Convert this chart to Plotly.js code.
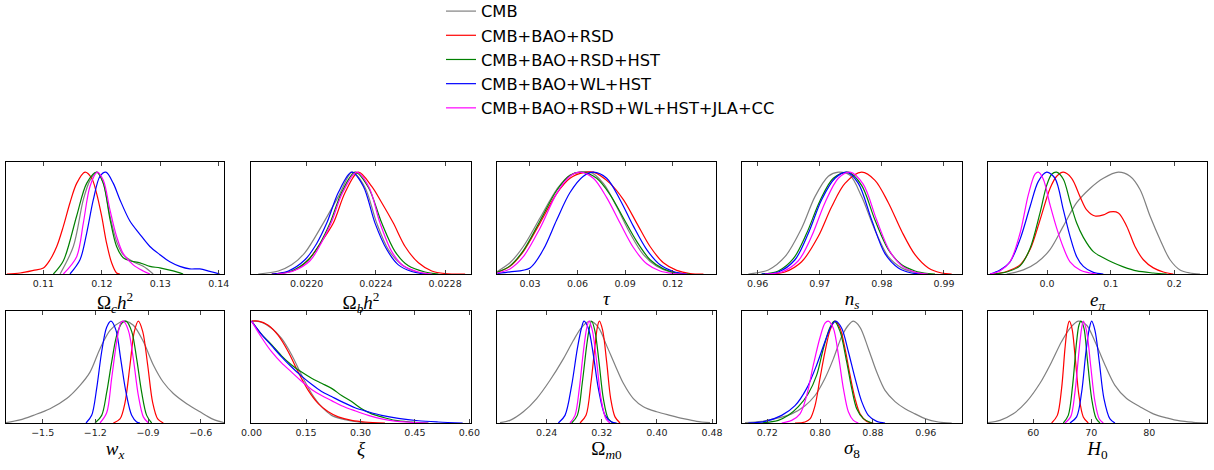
<!DOCTYPE html>
<html><head><meta charset="utf-8">
<script src="https://cdn.plot.ly/plotly-3.0.1.min.js"></script>
<style>html,body{margin:0;padding:0;background:#fff;overflow:hidden}#chart{width:1214px;height:476px;margin-top:-6px}</style>
</head><body><div id="chart"></div>
<script>
const SERIES = ['CMB','CMB+BAO+RSD','CMB+BAO+RSD+HST','CMB+BAO+WL+HST','CMB+BAO+RSD+WL+HST+JLA+CC'];
const COLORS = ['#808080','#ff0000','#008000','#0000ff','#ff00ff'];

// ---- Omega_c h^2 ----
const omch2_cmb_x = [0.11285,0.11512,0.11683,0.11797,0.11922,0.12025,0.12139,0.12252,0.12366,0.12537,0.12708,0.12879];
const omch2_cmb_y = [0,0.27,0.73,0.92,1,0.89,0.57,0.32,0.19,0.12,0.075,0];
const omch2_red_x = [0.10374,0.10601,0.10829,0.11,0.11114,0.11228,0.11342,0.11455,0.11569,0.11712,0.11826,0.11911,0.11996,0.12082,0.12167,0.12252,0.12309];
const omch2_red_y = [0,0.01,0.036,0.06,0.14,0.27,0.47,0.70,0.89,1,0.94,0.79,0.57,0.30,0.11,0.01,0];
const omch2_grn_x = [0.11171,0.11342,0.11569,0.1174,0.11911,0.12025,0.12139,0.12252,0.12366,0.1248,0.12651,0.12822,0.12993,0.1322,0.13391];
const omch2_grn_y = [0,0.13,0.57,0.89,1,0.89,0.54,0.27,0.16,0.13,0.11,0.075,0.06,0.03,0];
const omch2_blu_x = [0.11455,0.11626,0.1174,0.11854,0.11968,0.1207,0.12196,0.12309,0.1248,0.12651,0.12822,0.12993,0.13163,0.13334,0.13505,0.13676,0.13847,0.14017];
const omch2_blu_y = [0,0.14,0.4,0.73,0.96,1,0.89,0.73,0.52,0.39,0.27,0.19,0.12,0.075,0.05,0.05,0.026,0];
const omch2_mag_x = [0.11342,0.11569,0.11683,0.11797,0.11922,0.12025,0.12139,0.12252,0.12366,0.12537,0.12708,0.12822];
const omch2_mag_y = [0,0.17,0.5,0.86,1,0.92,0.63,0.37,0.2,0.09,0.03,0];

// ---- Omega_b h^2 ----
const ombh2_cmb_x = [0.02172,0.021836,0.021913,0.02199,0.022096,0.022183,0.022264,0.022337,0.022405,0.022472,0.022549,0.022627,0.022704];
const ombh2_cmb_y = [0,0.03,0.09,0.21,0.5,0.76,1,0.85,0.5,0.24,0.09,0.025,0];
const ombh2_red_x = [0.021798,0.021933,0.02201,0.022087,0.022154,0.022222,0.022299,0.022376,0.022434,0.022501,0.022569,0.022646,0.022723,0.0228,0.022916];
const ombh2_red_y = [0,0.04,0.14,0.32,0.5,0.8,1,0.86,0.7,0.5,0.27,0.11,0.03,0.005,0];
const ombh2_grn_x = [0.021817,0.021913,0.02201,0.022077,0.022135,0.022202,0.02228,0.022357,0.022434,0.022511,0.022588,0.022684,0.022762];
const ombh2_grn_y = [0,0.03,0.14,0.3,0.5,0.8,1,0.85,0.5,0.22,0.08,0.02,0];
const ombh2_blu_x = [0.021798,0.021894,0.02199,0.022058,0.022116,0.022183,0.02226,0.022328,0.022395,0.022463,0.02253,0.022607,0.022684];
const ombh2_blu_y = [0,0.03,0.14,0.3,0.5,0.8,1,0.86,0.5,0.24,0.09,0.025,0];
const ombh2_mag_x = [0.021826,0.021923,0.022019,0.022083,0.022141,0.022208,0.022289,0.022361,0.022424,0.022492,0.022559,0.022646,0.022723];
const ombh2_mag_y = [0,0.03,0.13,0.3,0.5,0.8,1,0.85,0.5,0.22,0.08,0.02,0];

// ---- tau ----
const tau_cmb_x = [0.00939,0.01738,0.02579,0.03631,0.04682,0.05524,0.06785,0.07627,0.08468,0.09309,0.1015,0.10991,0.11833,0.12674];
const tau_cmb_y = [0.025,0.11,0.27,0.55,0.83,0.97,1,0.89,0.66,0.4,0.19,0.075,0.02,0];
const tau_red_x = [0.00939,0.01738,0.02579,0.03631,0.04682,0.05524,0.06365,0.06996,0.08047,0.08888,0.0973,0.10571,0.11412,0.12253,0.13094,0.13936];
const tau_red_y = [0.016,0.075,0.22,0.5,0.79,0.94,0.995,1,0.89,0.73,0.5,0.27,0.11,0.036,0.005,0];
const tau_grn_x = [0.00939,0.01738,0.02579,0.03631,0.04682,0.05524,0.0626,0.07206,0.08047,0.08888,0.0973,0.10571,0.11412,0.12253,0.13094];
const tau_grn_y = [0.018,0.08,0.23,0.52,0.82,0.97,1,0.94,0.78,0.55,0.32,0.14,0.05,0.01,0];
const tau_blu_x = [0.00939,0.01738,0.03,0.03841,0.04682,0.05524,0.06365,0.06996,0.07837,0.08678,0.09519,0.10361,0.11202,0.12043,0.12884];
const tau_blu_y = [0.005,0.02,0.06,0.24,0.53,0.8,0.96,1,0.94,0.73,0.47,0.24,0.09,0.025,0];
const tau_mag_x = [0.00939,0.01738,0.02579,0.03631,0.04682,0.05524,0.06155,0.06996,0.07837,0.08678,0.09519,0.10361,0.11202,0.12043,0.12884];
const tau_mag_y = [0.01,0.05,0.17,0.45,0.79,0.96,1,0.94,0.75,0.5,0.26,0.1,0.03,0.005,0];

// ---- n_s ----
const ns_cmb_x = [0.9585,0.96172,0.9644,0.96708,0.96923,0.97138,0.97299,0.97487,0.97674,0.97889,0.98104,0.98319,0.98533,0.98748];
const ns_cmb_y = [0,0.04,0.17,0.45,0.76,0.96,1,0.97,0.76,0.43,0.17,0.06,0.016,0];
const ns_red_x = [0.96172,0.9644,0.96708,0.96977,0.97191,0.97406,0.97674,0.97889,0.98104,0.98319,0.98533,0.98748,0.98963,0.99124];
const ns_red_y = [0,0.02,0.12,0.37,0.66,0.89,1,0.92,0.7,0.42,0.19,0.06,0.01,0];
const ns_grn_x = [0.96064,0.96333,0.96574,0.96789,0.97004,0.97218,0.9746,0.97674,0.97889,0.98104,0.98319,0.98533,0.98748,0.98855];
const ns_grn_y = [0,0.03,0.15,0.4,0.72,0.94,1,0.87,0.53,0.24,0.09,0.03,0.005,0];
const ns_blu_x = [0.96064,0.96333,0.96601,0.96816,0.9703,0.97245,0.97433,0.97621,0.97836,0.9805,0.98265,0.9848,0.9864];
const ns_blu_y = [0,0.02,0.14,0.4,0.73,0.94,1,0.89,0.53,0.2,0.06,0.01,0];
const ns_mag_x = [0.96118,0.96386,0.96655,0.96869,0.97084,0.97299,0.97487,0.97701,0.97916,0.98131,0.98345,0.9856,0.98748];
const ns_mag_y = [0,0.02,0.13,0.37,0.7,0.94,1,0.88,0.53,0.22,0.07,0.015,0];

// ---- e_pi ----
const epi_cmb_x = [-0.06336,-0.03718,-0.01623,0.00471,0.02566,0.0466,0.06754,0.08849,0.11205,0.13038,0.14608,0.16179,0.1775,0.19321,0.20892,0.22462,0.24033];
const epi_cmb_y = [0,0.04,0.11,0.24,0.47,0.7,0.84,0.94,1,0.96,0.83,0.57,0.34,0.14,0.04,0.01,0];
const epi_red_x = [-0.0843,-0.06336,-0.04241,-0.0267,-0.011,0.00471,0.01518,0.02566,0.03875,0.05184,0.06231,0.0754,0.08849,0.09896,0.11205,0.12514,0.13823,0.15132,0.16703,0.18274,0.19844];
const epi_red_y = [0,0.025,0.09,0.24,0.53,0.84,0.96,1,0.94,0.76,0.63,0.57,0.58,0.61,0.6,0.47,0.27,0.14,0.06,0.02,0];
const epi_grn_x = [-0.0843,-0.06336,-0.04241,-0.0267,-0.011,-0.00052,0.00733,0.01518,0.02566,0.03613,0.0466,0.05707,0.07278,0.08849,0.1042,0.1199,0.14084,0.16703,0.18797];
const epi_grn_y = [0,0.02,0.08,0.25,0.6,0.87,0.98,1,0.93,0.71,0.5,0.36,0.22,0.16,0.11,0.07,0.03,0.01,0];
const epi_blu_x = [-0.08954,-0.07383,-0.05812,-0.04241,-0.0267,-0.01361,-0.00052,0.01257,0.02566,0.03613,0.0466,0.05707,0.07278,0.08849];
const epi_blu_y = [0,0.04,0.12,0.34,0.66,0.91,1,0.94,0.63,0.37,0.17,0.075,0.016,0];
const epi_mag_x = [-0.08954,-0.07383,-0.05812,-0.04241,-0.02932,-0.01885,-0.01361,-0.00576,0.00471,0.01518,0.02566,0.03613,0.05184,0.06754,0.07802];
const epi_mag_y = [0,0.03,0.12,0.4,0.78,0.98,1,0.93,0.68,0.45,0.26,0.12,0.04,0.01,0];

// ---- w_x ----
const wx_cmb_x = [-1.7089,-1.6291,-1.5532,-1.4582,-1.3633,-1.2873,-1.2303,-1.1734,-1.1164,-1.0594,-1.031,-0.9835,-0.9265,-0.8695,-0.8126,-0.7556,-0.6796,-0.6037,-0.5277,-0.465];
const wx_cmb_y = [0.003,0.03,0.075,0.14,0.24,0.37,0.5,0.73,0.91,0.99,1,0.96,0.8,0.57,0.4,0.29,0.19,0.11,0.036,0.003];
const wx_red_x = [-1.0974,-1.0594,-1.031,-1.0025,-0.9778,-0.955,-0.9303,-0.9018,-0.8733,-0.8448,-0.8126];
const wx_red_y = [0,0.04,0.2,0.57,0.9,1,0.9,0.57,0.2,0.04,0];
const wx_grn_x = [-1.2019,-1.1639,-1.1354,-1.1069,-1.0784,-1.0499,-1.0253,-0.993,-0.9645,-0.936,-0.9075,-0.879];
const wx_grn_y = [0,0.075,0.3,0.6,0.86,0.98,1,0.9,0.63,0.3,0.075,0];
const wx_blu_x = [-1.2531,-1.2209,-1.1924,-1.1639,-1.1354,-1.1107,-1.0822,-1.0556,-1.0253,-0.993,-0.9645,-0.9455];
const wx_blu_y = [0,0.075,0.34,0.7,0.94,1,0.91,0.63,0.3,0.075,0.01,0];
const wx_mag_x = [-1.1734,-1.1354,-1.1069,-1.0784,-1.0556,-1.0404,-1.012,-0.9835,-0.955,-0.9265,-0.898];
const wx_mag_y = [0,0.1,0.44,0.8,0.98,1,0.91,0.63,0.27,0.06,0];

// ---- xi ----
const xi_cmb_x = [0,0.023,0.0551,0.0827,0.1103,0.1378,0.1654,0.1929,0.2205,0.2573,0.294,0.3308];
const xi_cmb_y = [1,0.995,0.93,0.83,0.67,0.47,0.29,0.16,0.075,0.033,0.01,0];
const xi_red_x = [0,0.0184,0.0459,0.0735,0.1011,0.1286,0.1562,0.1838,0.2113,0.2389,0.2756,0.3124,0.3675];
const xi_red_y = [1,1,0.96,0.86,0.7,0.5,0.32,0.19,0.11,0.06,0.026,0.01,0];
const xi_grn_x = [0,0.0276,0.0551,0.0827,0.1103,0.1378,0.1654,0.1929,0.2205,0.2481,0.2756,0.3032,0.3308,0.3583,0.3951,0.441,0.487];
const xi_grn_y = [1,0.87,0.77,0.66,0.57,0.5,0.44,0.39,0.34,0.27,0.21,0.14,0.09,0.06,0.026,0.01,0];
const xi_blu_x = [0,0.0276,0.0551,0.0827,0.1103,0.1378,0.1654,0.1929,0.2205,0.2481,0.2848,0.3216,0.3583,0.4043,0.4594,0.5145,0.5816];
const xi_blu_y = [1,0.87,0.76,0.65,0.55,0.46,0.38,0.31,0.26,0.21,0.15,0.11,0.075,0.045,0.022,0.01,0];
const xi_mag_x = [0,0.0276,0.0551,0.0827,0.1103,0.1378,0.1654,0.1929,0.2205,0.2481,0.2848,0.3216,0.3583,0.3951,0.441,0.487];
const xi_mag_y = [1,0.84,0.7,0.59,0.5,0.41,0.33,0.27,0.22,0.17,0.12,0.075,0.04,0.018,0.007,0];

// ---- Omega_m0 ----
const om_cmb_x = [0.17225,0.18677,0.20613,0.22548,0.24484,0.2642,0.27871,0.29081,0.30291,0.31501,0.3271,0.3392,0.3513,0.36581,0.38033,0.39969,0.41904,0.4384,0.45776,0.47711];
const om_cmb_y = [0.003,0.026,0.11,0.24,0.42,0.63,0.81,0.94,1,0.94,0.76,0.57,0.39,0.24,0.16,0.11,0.075,0.043,0.016,0.003];
const om_red_x = [0.28839,0.2971,0.30436,0.31017,0.31355,0.31646,0.3213,0.3271,0.33291,0.3392,0.34646];
const om_red_y = [0,0.075,0.4,0.76,0.94,1,0.91,0.6,0.24,0.06,0];
const om_grn_x = [0.27629,0.28452,0.29178,0.29807,0.30194,0.30533,0.31017,0.31597,0.32226,0.32952,0.33678];
const om_grn_y = [0,0.075,0.4,0.76,0.93,1,0.9,0.6,0.24,0.04,0];
const om_blu_x = [0.25694,0.26661,0.27629,0.28452,0.29081,0.2942,0.30049,0.30775,0.31501,0.32468,0.33436,0.34162];
const om_blu_y = [0,0.075,0.37,0.73,0.94,1,0.93,0.67,0.34,0.075,0.01,0];
const om_mag_x = [0.27387,0.28113,0.28742,0.29323,0.29807,0.30146,0.3063,0.31259,0.31888,0.32613,0.33194];
const om_mag_y = [0,0.075,0.34,0.7,0.93,1,0.91,0.6,0.24,0.04,0];

// ---- sigma_8 ----
const s8_cmb_x = [0.68614,0.71141,0.73667,0.75689,0.7771,0.79226,0.80742,0.82005,0.83268,0.84279,0.85036,0.86047,0.8731,0.88574,0.89837,0.91353,0.92869,0.94385,0.95901,0.97922,0.99943];
const s8_cmb_y = [0.003,0.016,0.05,0.09,0.17,0.27,0.44,0.63,0.85,0.96,1,0.94,0.73,0.5,0.32,0.21,0.14,0.09,0.043,0.01,0];
const s8_red_x = [0.76194,0.7771,0.78468,0.79226,0.79984,0.80742,0.815,0.82258,0.83016,0.83773,0.84531,0.85289,0.86047,0.87058,0.88068];
const s8_red_y = [0,0.01,0.04,0.17,0.44,0.7,0.91,1,0.93,0.73,0.47,0.24,0.09,0.016,0];
const s8_grn_x = [0.71141,0.73667,0.75183,0.76699,0.78215,0.79478,0.80489,0.815,0.82157,0.83016,0.84026,0.84784,0.85542,0.86552,0.87816];
const s8_grn_y = [0,0.026,0.075,0.16,0.29,0.47,0.73,0.94,1,0.9,0.6,0.34,0.14,0.043,0];
const s8_blu_x = [0.6912,0.71646,0.74173,0.76194,0.77963,0.79478,0.80742,0.81752,0.82359,0.83268,0.84279,0.85289,0.863,0.8731,0.88574,0.89837];
const s8_blu_y = [0,0.016,0.075,0.17,0.34,0.57,0.8,0.96,1,0.93,0.7,0.44,0.21,0.075,0.016,0];
const s8_mag_x = [0.74173,0.75689,0.76952,0.77963,0.78973,0.79984,0.80742,0.81247,0.82005,0.82763,0.83521,0.84279,0.85036,0.85794];
const s8_mag_y = [0,0.026,0.09,0.27,0.57,0.84,0.98,1,0.93,0.67,0.34,0.11,0.026,0];

// ---- H_0 ----
const h0_cmb_x = [52.18,54.25,56.55,58.85,61.15,63.16,64.88,66.32,67.76,69.2,70.63,72.36,74.08,76.09,78.39,80.69,82.99,85.29,87.59,89.88];
const h0_cmb_y = [0.003,0.026,0.09,0.21,0.39,0.6,0.8,0.93,1,0.96,0.8,0.57,0.37,0.24,0.16,0.09,0.05,0.02,0.007,0];
const h0_red_x = [63.16,64.14,64.88,65.46,65.86,66.21,66.67,67.18,67.87,68.62,69.48];
const h0_red_y = [0,0.075,0.34,0.73,0.93,1,0.93,0.67,0.27,0.06,0];
const h0_grn_x = [65.17,66.03,66.78,67.47,67.87,68.22,68.74,69.31,70.06,70.8,71.49];
const h0_grn_y = [0,0.075,0.37,0.8,0.96,1,0.93,0.63,0.24,0.05,0];
const h0_blu_x = [66.32,67.47,68.33,69.08,69.66,70.06,70.63,71.38,72.18,73.22,74.08];
const h0_blu_y = [0,0.06,0.3,0.7,0.93,1,0.91,0.6,0.24,0.04,0];
const h0_mag_x = [65.46,66.44,67.18,67.87,68.33,68.62,69.2,69.88,70.63,71.38,72.07];
const h0_mag_y = [0,0.06,0.3,0.7,0.93,1,0.9,0.57,0.21,0.04,0];

// ---- tick labels ----
const TICKS_OMCH2 = [0.11,0.12,0.13,0.14], LABELS_OMCH2 = ['0.11','0.12','0.13','0.14'];
const TICKS_OMBH2 = [0.0220,0.0224,0.0228], LABELS_OMBH2 = ['0.0220','0.0224','0.0228'];
const TICKS_TAU = [0.03,0.06,0.09,0.12], LABELS_TAU = ['0.03','0.06','0.09','0.12'];
const TICKS_NS = [0.96,0.97,0.98,0.99], LABELS_NS = ['0.96','0.97','0.98','0.99'];
const TICKS_EPI = [0,0.1,0.2], LABELS_EPI = ['0.0','0.1','0.2'];
const TICKS_WX = [-1.5,-1.2,-0.9,-0.6], LABELS_WX = ['\u22121.5','\u22121.2','\u22120.9','\u22120.6'];
const TICKS_XI = [0,0.15,0.30,0.45,0.60], LABELS_XI = ['0.00','0.15','0.30','0.45','0.60'];
const TICKS_OM = [0.24,0.32,0.40,0.48], LABELS_OM = ['0.24','0.32','0.40','0.48'];
const TICKS_S8 = [0.72,0.80,0.88,0.96], LABELS_S8 = ['0.72','0.80','0.88','0.96'];
const TICKS_H0 = [60,70,80], LABELS_H0 = ['60','70','80'];

// figure is 6px taller than the window and shifted up by 6px (CSS) so the legend can sit at the very top
const W = 1214, OFF = 6, H = 470 + OFF;
const COLS = [[6,224],[251,471],[497,716],[742,962],[988,1207]];
const ROWS = [[162 + OFF,274 + OFF],[311 + OFF,423 + OFF]];

const panels = [
  {t:'Ω<sub><i>c</i></sub><i>h</i><sup>2</sup>', r:[0.1036,0.1409], tv:TICKS_OMCH2, tt:LABELS_OMCH2,
   c:[[omch2_cmb_x,omch2_cmb_y],[omch2_red_x,omch2_red_y],[omch2_grn_x,omch2_grn_y],[omch2_blu_x,omch2_blu_y],[omch2_mag_x,omch2_mag_y]]},
  {t:'Ω<sub><i>b</i></sub><i>h</i><sup>2</sup>', r:[0.021678,0.02295], tv:TICKS_OMBH2, tt:LABELS_OMBH2,
   c:[[ombh2_cmb_x,ombh2_cmb_y],[ombh2_red_x,ombh2_red_y],[ombh2_grn_x,ombh2_grn_y],[ombh2_blu_x,ombh2_blu_y],[ombh2_mag_x,ombh2_mag_y]]},
  {t:'<i>τ</i>', r:[0.0092,0.1473], tv:TICKS_TAU, tt:LABELS_TAU,
   c:[[tau_cmb_x,tau_cmb_y],[tau_red_x,tau_red_y],[tau_grn_x,tau_grn_y],[tau_blu_x,tau_blu_y],[tau_mag_x,tau_mag_y]]},
  {t:'<i>n</i><sub><i>s</i></sub>', r:[0.95748,0.9929], tv:TICKS_NS, tt:LABELS_NS,
   c:[[ns_cmb_x,ns_cmb_y],[ns_red_x,ns_red_y],[ns_grn_x,ns_grn_y],[ns_blu_x,ns_blu_y],[ns_mag_x,ns_mag_y]]},
  {t:'<i>e</i><sub><i>π</i></sub>', r:[-0.0927,0.2513], tv:TICKS_EPI, tt:LABELS_EPI,
   c:[[epi_cmb_x,epi_cmb_y],[epi_red_x,epi_red_y],[epi_grn_x,epi_grn_y],[epi_blu_x,epi_blu_y],[epi_mag_x,epi_mag_y]]},
  {t:'<i>w</i><sub><i>x</i></sub>', r:[-1.709,-0.467], tv:TICKS_WX, tt:LABELS_WX,
   c:[[wx_cmb_x,wx_cmb_y],[wx_red_x,wx_red_y],[wx_grn_x,wx_grn_y],[wx_blu_x,wx_blu_y],[wx_mag_x,wx_mag_y]]},
  {t:'<i>ξ</i>', r:[-0.0015,0.6045], tv:TICKS_XI, tt:LABELS_XI,
   c:[[xi_cmb_x,xi_cmb_y],[xi_red_x,xi_red_y],[xi_grn_x,xi_grn_y],[xi_blu_x,xi_blu_y],[xi_mag_x,xi_mag_y]]},
  {t:'Ω<sub><i>m</i>0</sub>', r:[0.1679,0.4858], tv:TICKS_OM, tt:LABELS_OM,
   c:[[om_cmb_x,om_cmb_y],[om_red_x,om_red_y],[om_grn_x,om_grn_y],[om_blu_x,om_blu_y],[om_mag_x,om_mag_y]]},
  {t:'<i>σ</i><sub>8</sub>', r:[0.6816,1.015], tv:TICKS_S8, tt:LABELS_S8,
   c:[[s8_cmb_x,s8_cmb_y],[s8_red_x,s8_red_y],[s8_grn_x,s8_grn_y],[s8_blu_x,s8_blu_y],[s8_mag_x,s8_mag_y]]},
  {t:'<i>H</i><sub>0</sub>', r:[52.19,89.95], tv:TICKS_H0, tt:LABELS_H0,
   c:[[h0_cmb_x,h0_cmb_y],[h0_red_x,h0_red_y],[h0_grn_x,h0_grn_y],[h0_blu_x,h0_blu_y],[h0_mag_x,h0_mag_y]]}
];

const traces = [];
const layout = {
  width: W, height: H, margin:{l:0,r:0,t:0,b:0},
  paper_bgcolor:'#fff', plot_bgcolor:'#fff',
  font:{family:'DejaVu Sans', color:'#000'},
  showlegend:true,
  legend:{x:441/W, y:1, xanchor:'left', yanchor:'top', bgcolor:'rgba(0,0,0,0)',
          font:{family:'DejaVu Sans', size:16.3, color:'#000'}, borderwidth:0, tracegroupgap:0}
};

panels.forEach((p, i) => {
  const n = i + 1;
  const col = COLS[i % 5], row = ROWS[Math.floor(i / 5)];
  const xa = 'xaxis' + (n === 1 ? '' : n), ya = 'yaxis' + (n === 1 ? '' : n);
  layout[xa] = {
    domain:[col[0]/W, col[1]/W], range:p.r, anchor:'y' + (n === 1 ? '' : n),
    showgrid:false, zeroline:false, showline:true, mirror:'allticks', linecolor:'#000', linewidth:1.3,
    ticks:'inside', ticklen:4, tickwidth:1, tickcolor:'#444',
    tickmode:'array', tickvals:p.tv, ticktext:p.tt,
    tickfont:{family:'DejaVu Sans', size:9.5, color:'#222'},
    title:{text:p.t, font:{family:'Liberation Serif', size:19, color:'#000'}, standoff:4},
    automargin:false, fixedrange:true
  };
  layout[ya] = {
    domain:[1 - row[1]/H, 1 - row[0]/H], range:[0, 1.1], anchor:'x' + (n === 1 ? '' : n),
    showgrid:false, zeroline:false, showline:true, mirror:true, linecolor:'#000', linewidth:1.3,
    ticks:'', showticklabels:false, automargin:false, fixedrange:true
  };
  p.c.forEach((cv, k) => {
    traces.push({
      type:'scatter', mode:'lines', x:cv[0], y:cv[1],
      xaxis:'x' + (n === 1 ? '' : n), yaxis:'y' + (n === 1 ? '' : n),
      name:SERIES[k], legendgroup:SERIES[k], showlegend:(i === 0),
      line:{color:COLORS[k], width:1.2, shape:'spline', smoothing:0.9},
      hoverinfo:'skip'
    });
  });
});

Plotly.newPlot('chart', traces, layout, {staticPlot:true, displayModeBar:false});
</script>
</body></html>
